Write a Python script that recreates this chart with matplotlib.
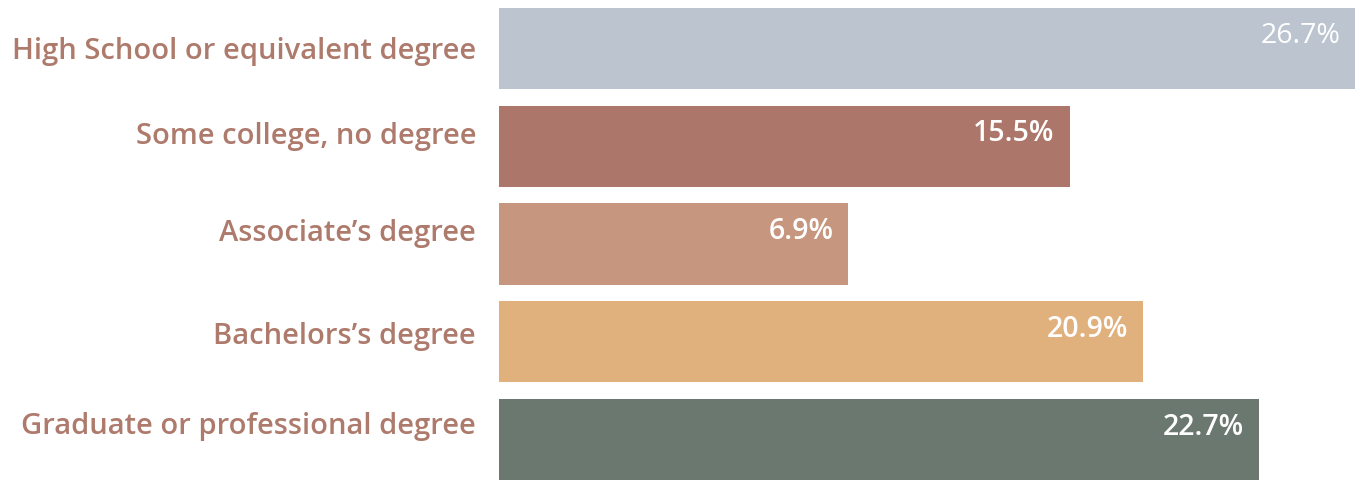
import matplotlib.pyplot as plt
from matplotlib.transforms import ScaledTranslation

# Education levels, top to bottom
categories = ['High School or equivalent degree', 'Some college, no degree',
              "Associate\u2019s degree", "Bachelors\u2019s degree",
              'Graduate or professional degree']
# Percentages printed on the bars
pct_values = [26.7, 15.5, 6.9, 20.9, 22.7]
# Bar lengths as drawn in the picture (not proportional to the labels)
bar_lengths = [26.7, 17.8, 10.9, 20.1, 23.7]
colors = ['#bcc5cf', '#ac776a', '#c6967e', '#e0b07d', '#6a7870']
LABEL_COLOR = '#ad7a6c'
# category labels sit a little above their bars in the original (pixels)
LABEL_SHIFT = [0, 13, 14, 9, 17]

plt.rcParams['font.family'] = ['Open Sans', 'DejaVu Sans']

fig = plt.figure(figsize=(13.62, 4.8), dpi=100)
ax = fig.add_axes([499 / 1362, 0, (1355 - 499) / 1362, 1])

y = list(range(len(categories)))
ax.barh(y, bar_lengths, height=0.83, color=colors)

ax.set_xlim(0, max(bar_lengths))
ax.set_ylim(4.414, -0.496)

ax.set_yticks(y)
ax.set_yticklabels(categories, fontsize=21, fontweight='semibold',
                   color=LABEL_COLOR)
ax.tick_params(axis='y', length=0, pad=16.5)
for lbl, dy in zip(ax.get_yticklabels(), LABEL_SHIFT):
    lbl.set_transform(lbl.get_transform() +
                      ScaledTranslation(0, dy / 100, fig.dpi_scale_trans))
ax.set_xticks([])
for s in ax.spines.values():
    s.set_visible(False)

for i, (length, pct) in enumerate(zip(bar_lengths, pct_values)):
    weight = 'normal' if i == 0 else 'semibold'
    ax.annotate(f'{pct}%', xy=(length, i), xytext=(-15, 12.5),
                textcoords='offset pixels', ha='right', va='center',
                fontsize=20.5, color='white', fontweight=weight)

fig.savefig('out.png', dpi=100)
